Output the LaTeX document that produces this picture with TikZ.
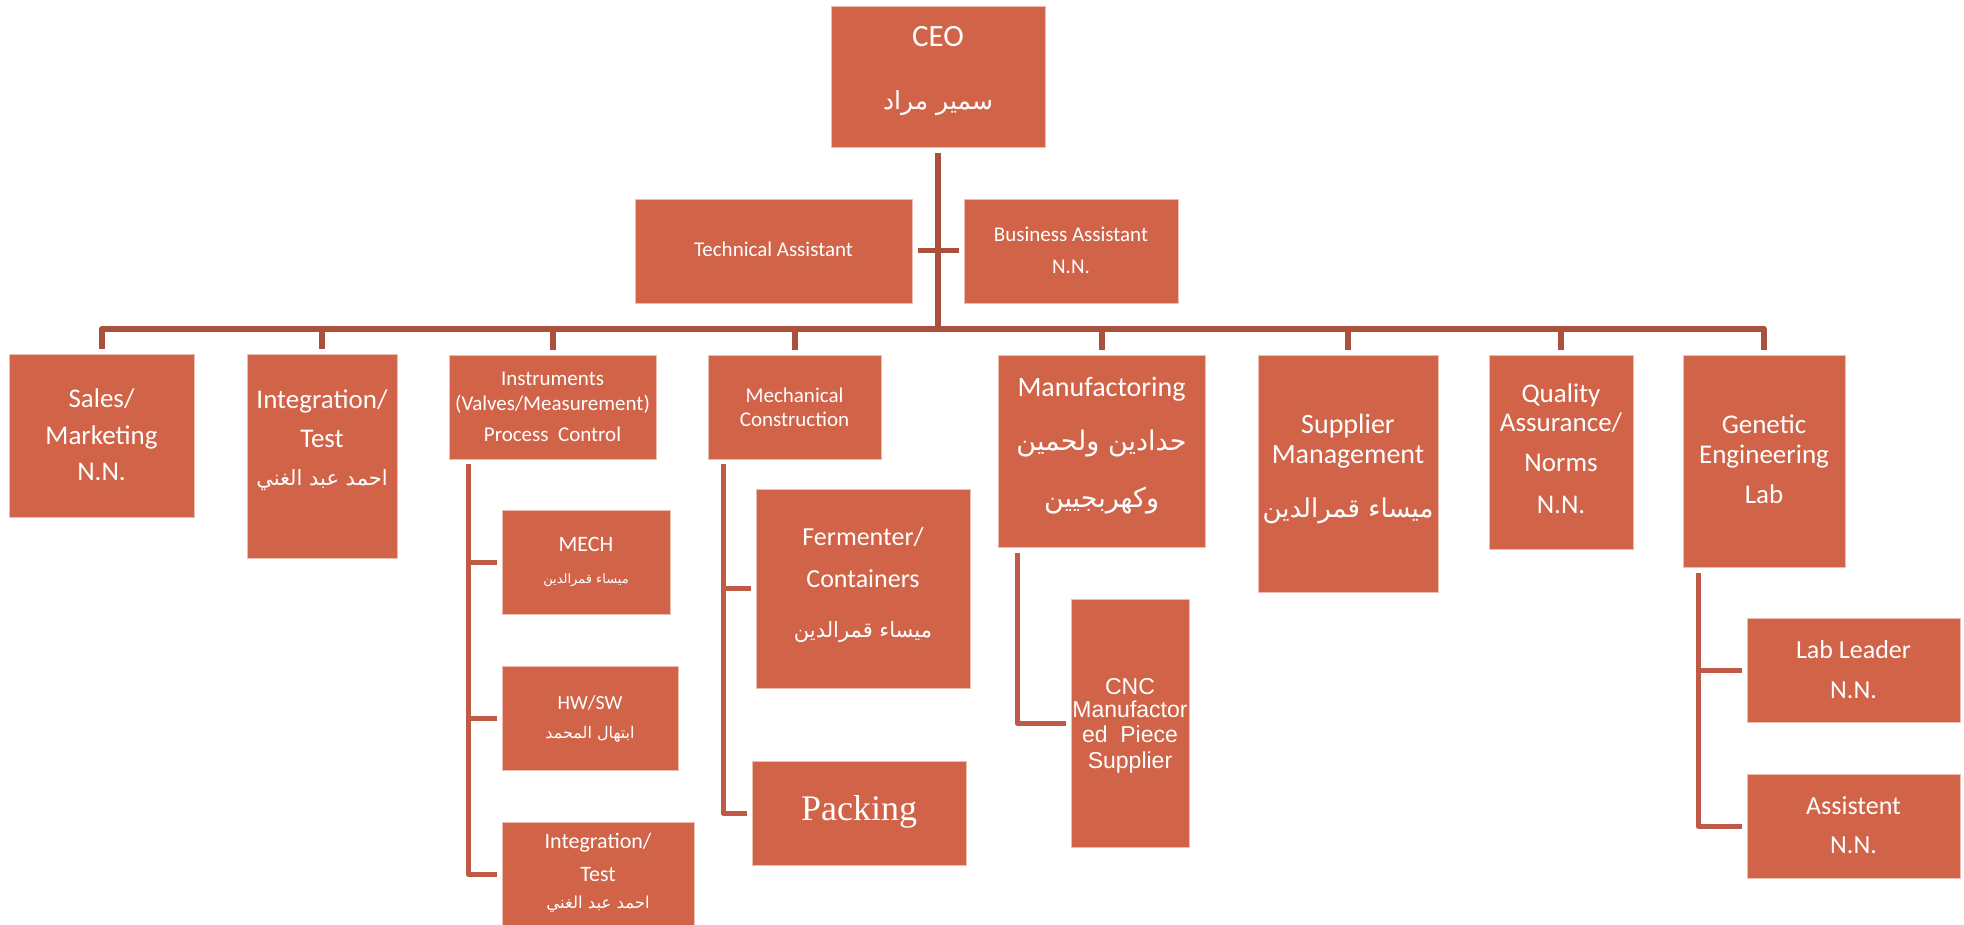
\documentclass[tikz,border=0pt]{standalone}
\usepackage{fontspec}
\setmainfont{Carlito}
\newfontfamily\arabicfont[Script=Arabic]{DejaVu Sans}
\newfontfamily\arialfont{Liberation Sans}
\newfontfamily\packfont{Liberation Serif}
\TeXXeTstate=1
\definecolor{boxc}{RGB}{209,99,73}
\definecolor{boxedge}{RGB}{236,190,178}
\definecolor{busc}{RGB}{169,81,61}
\definecolor{subc}{RGB}{190,90,69}
\newcommand\obox[5]{\node[orgbox, minimum width={(#3-#1)*1pt}, minimum height={(#4-#2)*1pt}] (#5) at (#1,#2) {};}
\newcommand\fs[1]{\fontsize{#1}{#1}\selectfont}
\newcommand\ar[1]{{\arabicfont\beginR #1\endR}}
\begin{document}
\begin{tikzpicture}[x=1pt,y=-1pt,
  orgbox/.style={fill=boxc, draw=boxedge, line width=0.8pt, inner sep=0pt, outer sep=0pt, anchor=north west},
  txt/.style={text=white, anchor=base, inner sep=0pt, outer sep=0pt},
  busline/.style={draw=busc, line width=6pt, line join=round},
  subline/.style={draw=subc, line width=5pt, line join=round}]
\useasboundingbox (0,0) rectangle (1964,925);
% boxes
\obox{831}{6}{1045}{147}{ceo}
\obox{635}{199}{912}{303}{ta}
\obox{964}{199}{1178}{303}{ba}
\obox{9}{354}{194}{517}{sales}
\obox{247}{354}{397}{558}{integ}
\obox{449}{355}{656}{459}{instr}
\obox{708}{355}{881}{459}{mech}
\obox{998}{355}{1205}{547}{manuf}
\obox{1258}{355}{1438}{592}{supp}
\obox{1489}{355}{1633}{549}{qual}
\obox{1683}{355}{1845}{567}{gen}
\obox{502}{510}{670}{614}{mechs}
\obox{502}{666}{678}{770}{hwsw}
\obox{502}{822}{694}{926}{integs}
\obox{756}{489}{970}{688}{ferm}
\obox{752}{761}{966}{865}{pack}
\obox{1071}{599}{1189}{847}{cnc}
\obox{1747}{618}{1960}{722}{lab}
\obox{1747}{774}{1960}{878}{asst}
% connectors
\coordinate (bus) at (0,329);
\draw[busline, shorten <=6pt] (ceo.south) -- (ceo.south |- bus);
\draw[busline, line width=5pt, shorten <=6pt, shorten >=5pt] (ta.east) -- (ba.west);
\draw[busline, shorten <=5pt, shorten >=5pt] (sales.north) -- (sales.north |- bus) -- (gen.north |- bus) -- (gen.north);
\foreach \n in {integ,instr,mech,manuf,supp,qual}
  \draw[busline, shorten <=5pt] (\n.north) -- (\n.north |- bus);
\draw[subline] ([xshift=19pt,yshift=-5pt]instr.south west) |- ([xshift=-5pt]mechs.west);
\draw[subline] ([xshift=19pt,yshift=-5pt]instr.south west) |- ([xshift=-5pt]hwsw.west);
\draw[subline] ([xshift=19pt,yshift=-5pt]instr.south west) |- ([xshift=-5pt]integs.west);
\draw[subline] ([xshift=15pt,yshift=-5pt]mech.south west) |- ([xshift=-5pt]ferm.west);
\draw[subline] ([xshift=15pt,yshift=-5pt]mech.south west) |- ([xshift=-5pt]pack.west);
\draw[subline] ([xshift=19pt,yshift=-6pt]manuf.south west) |- ([xshift=-5pt]cnc.west);
\draw[subline] ([xshift=15pt,yshift=-6pt]gen.south west) |- ([xshift=-5pt]lab.west);
\draw[subline] ([xshift=15pt,yshift=-6pt]gen.south west) |- ([xshift=-5pt]asst.west);
% texts
\node[txt, font=\fs{31}] (ceo1) at (938,47) {CEO};
\node[txt, font=\fs{25}] (ceo2) at (938,110) {\ar{سمير مراد}};
\node[txt, font=\fs{21}] (ta1) at (773.5,257) {Technical Assistant};
\node[txt, font=\fs{21}] (ba1) at (1071,242) {Business Assistant};
\node[txt, font=\fs{21}] (ba2) at (1071,273) {N.N.};
\node[txt, font=\fs{27}] (sa1) at (101.5,407) {Sales/};
\node[txt, font=\fs{27}] (sa2) at (101.5,444) {Marketing};
\node[txt, font=\fs{27}] (sa3) at (101.5,480) {N.N.};
\node[txt, font=\fs{27}] (in1) at (322,408) {Integration/};
\node[txt, font=\fs{27}] (in2) at (322,447) {Test};
\node[txt, font=\fs{21}] (in3) at (322,485) {\ar{احمد عبد الغني}};
\node[txt, font=\fs{21}] (is1) at (552.5,385) {Instruments};
\node[txt, font=\fs{21}] (is2) at (552.5,410) {(Valves/Measurement)};
\node[txt, font=\fs{21}] (is3) at (552.5,441) {Process\ \ Control};
\node[txt, font=\fs{21}] (mc1) at (794.5,402) {Mechanical};
\node[txt, font=\fs{21}] (mc2) at (794.5,426) {Construction};
\node[txt, font=\fs{28}] (mf1) at (1101.5,396) {Manufactoring};
\node[txt, font=\fs{27}] (mf2) at (1101.5,450) {\ar{حدادين ولحمين}};
\node[txt, font=\fs{27}] (mf3) at (1101.5,507) {\ar{وكهربجيين}};
\node[txt, font=\fs{28}] (su1) at (1348,433) {Supplier};
\node[txt, font=\fs{28}] (su2) at (1348,463) {Management};
\node[txt, font=\fs{26}] (su3) at (1348,517) {\ar{ميساء قمرالدين}};
\node[txt, font=\fs{27}] (qa1) at (1561,402) {Quality};
\node[txt, font=\fs{27}] (qa2) at (1561,431) {Assurance/};
\node[txt, font=\fs{27}] (qa3) at (1561,471) {Norms};
\node[txt, font=\fs{27}] (qa4) at (1561,513) {N.N.};
\node[txt, font=\fs{27}] (ge1) at (1764,433) {Genetic};
\node[txt, font=\fs{27}] (ge2) at (1764,463) {Engineering};
\node[txt, font=\fs{27}] (ge3) at (1764,503) {Lab};
\node[txt, font=\fs{22}] (me1) at (586,551) {MECH};
\node[txt, font=\fs{13}] (me2) at (586,583) {\ar{ميساء قمرالدين}};
\node[txt, font=\fs{20}] (hw1) at (590,709) {HW/SW};
\node[txt, font=\fs{16}] (hw2) at (590,738) {\ar{ابتهال المحمد}};
\node[txt, font=\fs{22}] (it1) at (598,848) {Integration/};
\node[txt, font=\fs{22}] (it2) at (598,881) {Test};
\node[txt, font=\fs{16.5}] (it3) at (598,908) {\ar{احمد عبد الغني}};
\node[txt, font=\fs{26}] (fe1) at (863,545) {Fermenter/};
\node[txt, font=\fs{26}] (fe2) at (863,587) {Containers};
\node[txt, font=\fs{21}] (fe3) at (863,637) {\ar{ميساء قمرالدين}};
\node[txt, font=\packfont\fs{36}] (pk1) at (859,820) {Packing};
\node[txt, font=\arialfont\fs{23}] (cn1) at (1130,694) {CNC};
\node[txt, font=\arialfont\fs{23}] (cn2) at (1130,717) {Manufactor};
\node[txt, font=\arialfont\fs{23}] (cn3) at (1130,742) {ed\ \ Piece};
\node[txt, font=\arialfont\fs{23}] (cn4) at (1130,768) {Supplier};
\node[txt, font=\fs{26}] (lb1) at (1853.5,658) {Lab Leader};
\node[txt, font=\fs{26}] (lb2) at (1853.5,698) {N.N.};
\node[txt, font=\fs{26}] (as1) at (1853.5,814) {Assistent};
\node[txt, font=\fs{26}] (as2) at (1853.5,853) {N.N.};
\end{tikzpicture}
\end{document}
